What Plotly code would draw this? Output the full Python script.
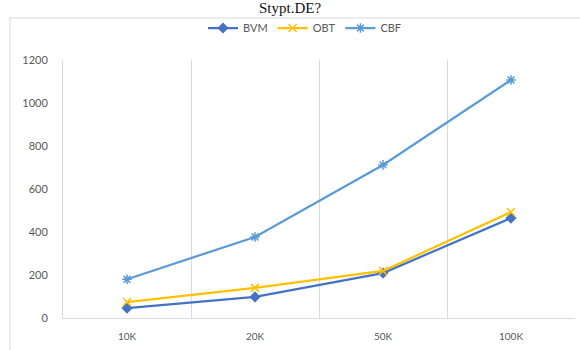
import plotly.graph_objects as go

# Dataset sizes and timings per method
categories = ["10K", "20K", "50K", "100K"]
bvm = [46, 98, 209, 465]
obt = [74, 140, 219, 493]
cbf = [180, 377, 712, 1107]
y_ticks = [0, 200, 400, 600, 800, 1000, 1200]

xpos = list(range(len(categories)))

fig = go.Figure()
series = [
    ("BVM", bvm, "#4472C4", "diamond", 7),
    ("OBT", obt, "#FFC000", "x-thin-open", 8),
    ("CBF", cbf, "#5B9BD5", "asterisk-open", 8),
]
for name, vals, color, sym, size in series:
    fig.add_trace(go.Scatter(
        x=xpos, y=vals, name=name, mode="lines+markers",
        line=dict(color=color, width=2.25),
        marker=dict(symbol=sym, size=size, color=color,
                    line=dict(color=color, width=1.5)),
    ))

fig.update_layout(
    width=580, height=350,
    margin=dict(l=63, r=5, t=60, b=32),
    paper_bgcolor="white", plot_bgcolor="white",
    font=dict(family="Lato, Liberation Sans, sans-serif", color="#595959", size=11),
    showlegend=True,
    legend=dict(orientation="h", x=0.4727, xanchor="center", y=1.124, yanchor="middle",
                font=dict(size=11, color="#595959"), itemwidth=30,
                bgcolor="rgba(0,0,0,0)"),
    xaxis=dict(
        range=[-0.5, 3.5], tickvals=xpos, ticktext=categories,
        showgrid=False, zeroline=False, showline=True, linecolor="#D9D9D9", linewidth=1,
        ticks="outside", ticklen=9, tickcolor="rgba(0,0,0,0)",
        tickfont=dict(size=10, color="#595959"),
        minor=dict(tickvals=[-0.5, 0.5, 1.5, 2.5, 3.5], showgrid=True,
                   gridcolor="#D9D9D9", gridwidth=1),
        fixedrange=True,
    ),
    yaxis=dict(
        range=[0, 1200], tickvals=y_ticks,
        showgrid=False, zeroline=False, showline=True, linecolor="#D9D9D9", linewidth=1,
        ticks="outside", ticklen=12, tickcolor="rgba(0,0,0,0)",
        tickfont=dict(size=11, color="#595959"),
        fixedrange=True,
    ),
)

# Chart-area frame (top and left edges)
fig.add_shape(type="line", xref="paper", yref="paper",
              x0=-0.1035, x1=1.02, y0=1.1628, y1=1.1628,
              line=dict(color="#D9D9D9", width=1))
fig.add_shape(type="line", xref="paper", yref="paper",
              x0=-0.1035, x1=-0.1035, y0=1.1628, y1=-0.14,
              line=dict(color="#D9D9D9", width=1))

# Caption text above the chart frame
fig.add_annotation(text="Stypt.DE?", xref="paper", yref="paper",
                   x=0.4434, y=1.2016, xanchor="center", yanchor="middle",
                   showarrow=False,
                   font=dict(family="Liberation Serif, serif", size=15, color="#111111"))

fig.write_html("out.html")
